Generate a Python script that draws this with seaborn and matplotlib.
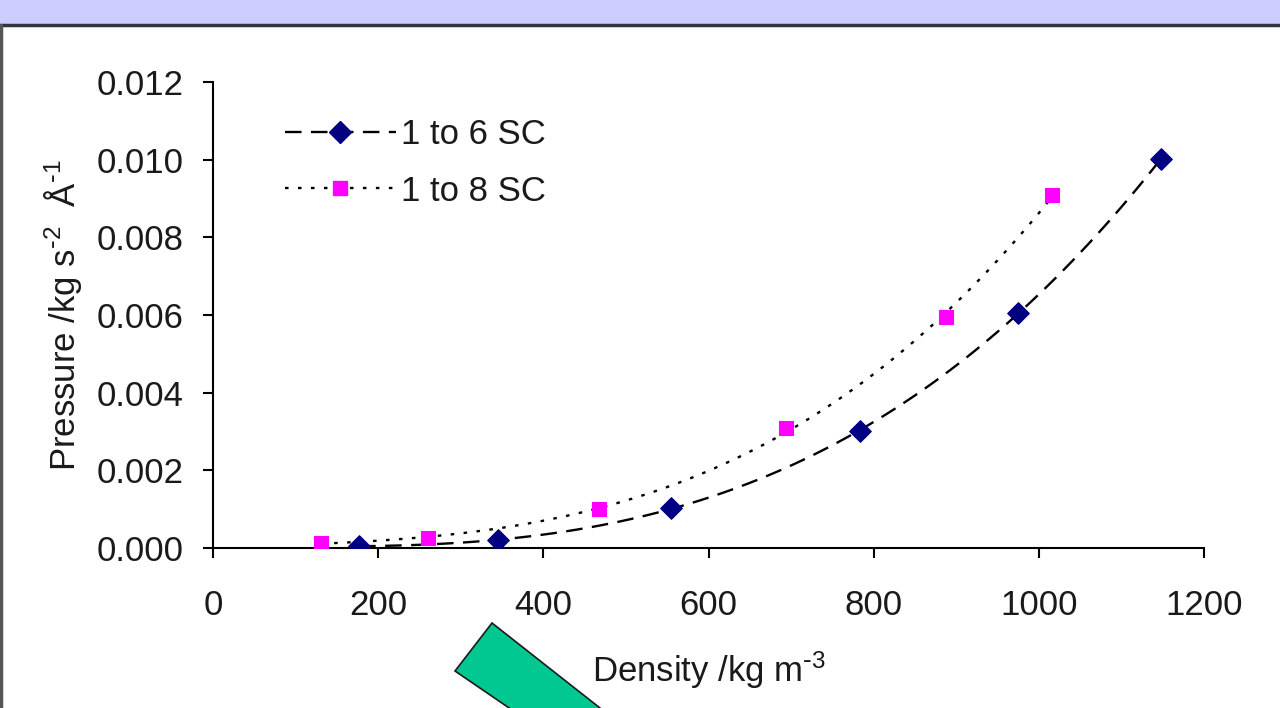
import matplotlib
matplotlib.use("Agg")
import matplotlib.pyplot as plt
import seaborn as sns
import pandas as pd
import numpy as np
from matplotlib.lines import Line2D
from matplotlib.patches import Rectangle, Polygon

sns.set_theme(style="ticks")
plt.rcParams['font.family'] = ['Liberation Sans', 'DejaVu Sans']
plt.rcParams['mathtext.default'] = 'regular'

# Data
density_6sc = [177, 345, 555, 783, 975, 1148]
pressure_6sc = [0.00005, 0.0002, 0.00103, 0.00301, 0.00605, 0.01002]
density_8sc = [131, 260, 467, 694, 888, 1016]
pressure_8sc = [0.00013, 0.00026, 0.0010, 0.00309, 0.00595, 0.00909]
series_names = ["1 to 6 SC", "1 to 8 SC"]
x_ticks = [0, 200, 400, 600, 800, 1000, 1200]
y_ticks = [0.000, 0.002, 0.004, 0.006, 0.008, 0.010, 0.012]

df6 = pd.DataFrame({"Density": density_6sc, "Pressure": pressure_6sc})
df8 = pd.DataFrame({"Density": density_8sc, "Pressure": pressure_8sc})

fig = plt.figure(figsize=(12.8, 7.08), dpi=100)
fig.patch.set_facecolor("white")
ax = fig.add_axes([213/1280, 1-548/708, (1204-213)/1280, (548-82)/708])
ax.set_facecolor("white")

fs = 25
txt = "#1a1a1a"
dash_ls = (0, (7, 4))
dot_ls = (0, (1.5, 4))
# trend lines
sns.regplot(data=df6, x="Density", y="Pressure", order=3, ci=None, scatter=False,
            ax=ax, line_kws=dict(color="black", lw=1.7, ls=dash_ls))
sns.regplot(data=df8, x="Density", y="Pressure", order=3, ci=None, scatter=False,
            ax=ax, line_kws=dict(color="black", lw=1.7, ls=dot_ls))
sns.scatterplot(data=df6, x="Density", y="Pressure", marker="D", s=120,
                color="#000080", edgecolor="#000080", ax=ax, zorder=5)
sns.scatterplot(data=df8, x="Density", y="Pressure", marker="s", s=100,
                color="#ff00ff", edgecolor="#ff00ff", ax=ax, zorder=5)

ax.set_xlim(0, 1200)
ax.set_ylim(0, 0.012)
ax.set_xticks(x_ticks)
ax.set_xticklabels([str(v) for v in x_ticks], fontsize=fs, color=txt)
ax.set_yticks(y_ticks)
ax.set_yticklabels([f"{v:.3f}" for v in y_ticks], fontsize=fs, color=txt)
ax.tick_params(axis="both", direction="out", length=7.2, width=1.5, color="black")
ax.tick_params(axis="x", pad=22)
ax.tick_params(axis="y", pad=14)
for s in ["top", "right"]:
    ax.spines[s].set_visible(False)
for s in ["left", "bottom"]:
    ax.spines[s].set_color("black")
    ax.spines[s].set_linewidth(1.5)

ax.set_xlabel("Density /kg m$^{\\text{-}3}$", fontsize=fs, color=txt)
ax.xaxis.set_label_coords(0.5, -0.217)
ax.set_ylabel("Pressure /kg s$^{\\text{-}2}$  Å$^{\\text{-}1}$", fontsize=fs, color=txt)
ax.yaxis.set_label_coords(-0.130, 0.5)

handles = [
    Line2D([], [], color="black", lw=1.7, ls=dash_ls, marker="D", ms=11,
           mfc="#000080", mec="#000080"),
    Line2D([], [], color="black", lw=1.7, ls=dot_ls, marker="s", ms=10,
           mfc="#ff00ff", mec="#ff00ff"),
]
ax.legend(handles, series_names, loc="upper left", bbox_to_anchor=(0.041, 0.99),
          frameon=False, fontsize=fs, handlelength=3.2, handletextpad=0.15,
          labelspacing=0.68, labelcolor=txt)

# Frame decoration
fig.patches.append(Rectangle((0, 1-24/708), 1, 24/708, transform=fig.transFigure,
                             facecolor="#ccccff", edgecolor="none", zorder=0))
fig.lines.append(Line2D([0, 1], [1-25/708, 1-25/708], transform=fig.transFigure,
                        color="#333340", lw=2.5))
fig.lines.append(Line2D([1/1280, 1/1280], [0, 1-25/708], transform=fig.transFigure,
                        color="#555555", lw=2.5))
fig.patches.append(Polygon([(492/1280, 1-623/708), (455/1280, 1-671/708),
                            (515/1280, 1-712/708), (603/1280, 1-712/708),
                            (600/1280, 1-708/708)],
                           closed=True, transform=fig.transFigure,
                           facecolor="#00c890", edgecolor="#1a1a1a", lw=1.2, zorder=3))

fig.savefig("out.png", dpi=100)
